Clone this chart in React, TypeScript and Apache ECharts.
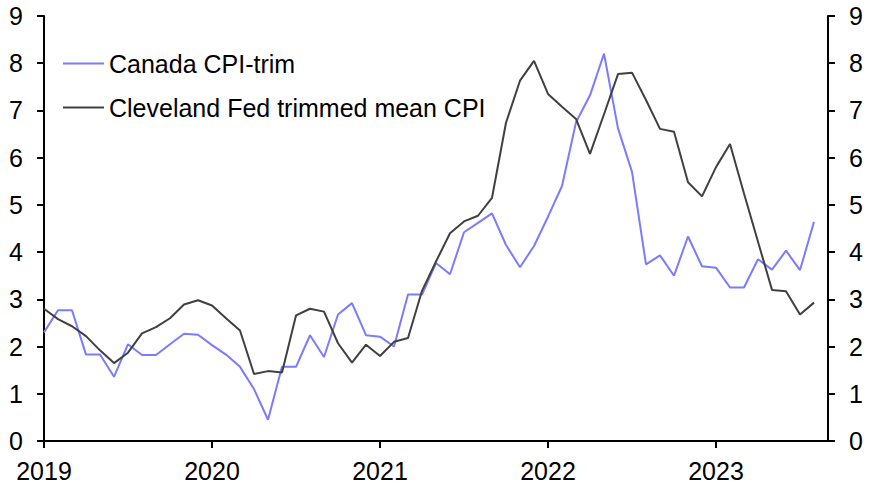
import React, { useEffect, useRef } from "react";
import * as echarts from "echarts";

const startYear = 2019;
const monthCount = 57; // Jan 2019 .. Sep 2023 (axis end)
const months: string[] = [];
for (let i = 0; i < monthCount; i++) {
  const y = startYear + Math.floor(i / 12);
  const m = (i % 12) + 1;
  months.push(`${y}-${m < 10 ? "0" + m : m}`);
}

const canadaCPITrim = [
  2.3, 2.77, 2.77, 1.83, 1.83, 1.36, 2.05, 1.82, 1.82, 2.05, 2.27, 2.25,
  2.03, 1.83, 1.57, 1.1, 0.45, 1.57, 1.57, 2.24, 1.78, 2.68, 2.92, 2.24,
  2.21, 2.0, 3.1, 3.1, 3.77, 3.53, 4.42, 4.62, 4.82, 4.15, 3.68, 4.13,
  4.75, 5.4, 6.75, 7.32, 8.2, 6.62, 5.7, 3.74, 3.93, 3.5, 4.33, 3.7,
  3.67, 3.25, 3.25, 3.85, 3.63, 4.03, 3.62, 4.64,
];

const clevelandTrimmedMean = [
  2.8, 2.58, 2.43, 2.22, 1.92, 1.65, 1.87, 2.28, 2.41, 2.6, 2.89, 2.98,
  2.87, 2.6, 2.34, 1.42, 1.48, 1.45, 2.66, 2.8, 2.74, 2.07, 1.66, 2.04,
  1.8, 2.1, 2.18, 3.18, 3.8, 4.4, 4.65, 4.77, 5.15, 6.74, 7.63, 8.05,
  7.35, 7.08, 6.82, 6.08, 6.92, 7.77, 7.8, 7.22, 6.61, 6.55, 5.48, 5.18,
  5.8, 6.29, 5.24, 4.22, 3.2, 3.17, 2.68, 2.93,
];

const yTicks = { min: 0, max: 9, interval: 1 };

const FONT = "'Liberation Sans', Arial, sans-serif";

export default function App() {
  const ref = useRef<HTMLDivElement>(null);

  useEffect(() => {
    if (!ref.current) return;
    const chart = echarts.init(ref.current, null, { renderer: "svg" });

    const yAxisCommon = {
      type: "value",
      min: yTicks.min,
      max: yTicks.max,
      interval: yTicks.interval,
      splitLine: { show: false },
      axisLine: { show: true, lineStyle: { color: "#000", width: 2 } },
      axisTick: { show: true, inside: false, length: 7, lineStyle: { color: "#000", width: 2 } },
      axisLabel: { color: "#000", fontSize: 25, fontFamily: FONT, margin: 21 },
    };

    chart.setOption({
      animation: false,
      backgroundColor: "#fff",
      textStyle: { fontFamily: FONT },
      grid: {
        left: 44,
        right: 44,
        top: 16,
        bottom: 43,
        containLabel: false,
        outerBoundsMode: "none",
      },
      legend: {
        show: true,
        orient: "vertical",
        left: 63,
        top: 51,
        padding: 0,
        icon: "rect",
        itemWidth: 41,
        itemHeight: 2,
        itemGap: 19,
        textStyle: { color: "#000", fontSize: 25, fontFamily: FONT },
        data: ["Canada CPI-trim", "Cleveland Fed trimmed mean CPI"],
      },
      xAxis: {
        type: "category",
        data: months,
        boundaryGap: false,
        axisLine: { show: true, onZero: false, lineStyle: { color: "#000", width: 2 } },
        axisTick: {
          show: true,
          inside: false,
          length: 7,
          interval: (index: number) => index % 12 === 0,
          lineStyle: { color: "#000", width: 2 },
        },
        axisLabel: {
          color: "#000",
          fontSize: 25,
          fontFamily: FONT,
          margin: 17,
          interval: (index: number) => index % 12 === 0,
          formatter: (value: string) => value.slice(0, 4),
        },
        splitLine: { show: false },
      },
      yAxis: [
        { ...yAxisCommon, position: "left" },
        { ...yAxisCommon, position: "right" },
      ],
      series: [
        {
          name: "Canada CPI-trim",
          type: "line",
          data: canadaCPITrim,
          yAxisIndex: 0,
          symbol: "none",
          color: "#7b7bff",
          lineStyle: { color: "#7b7bff", width: 2 },
          z: 2,
        },
        {
          name: "Cleveland Fed trimmed mean CPI",
          type: "line",
          data: clevelandTrimmedMean,
          yAxisIndex: 0,
          symbol: "none",
          color: "#404040",
          lineStyle: { color: "#404040", width: 2 },
          z: 3,
        },
      ],
    });

    return () => {
      chart.dispose();
    };
  }, []);

  return (
    <div
      ref={ref}
      style={{ position: "fixed", left: 0, top: 0, width: 872, height: 484, background: "#fff" }}
    />
  );
}
